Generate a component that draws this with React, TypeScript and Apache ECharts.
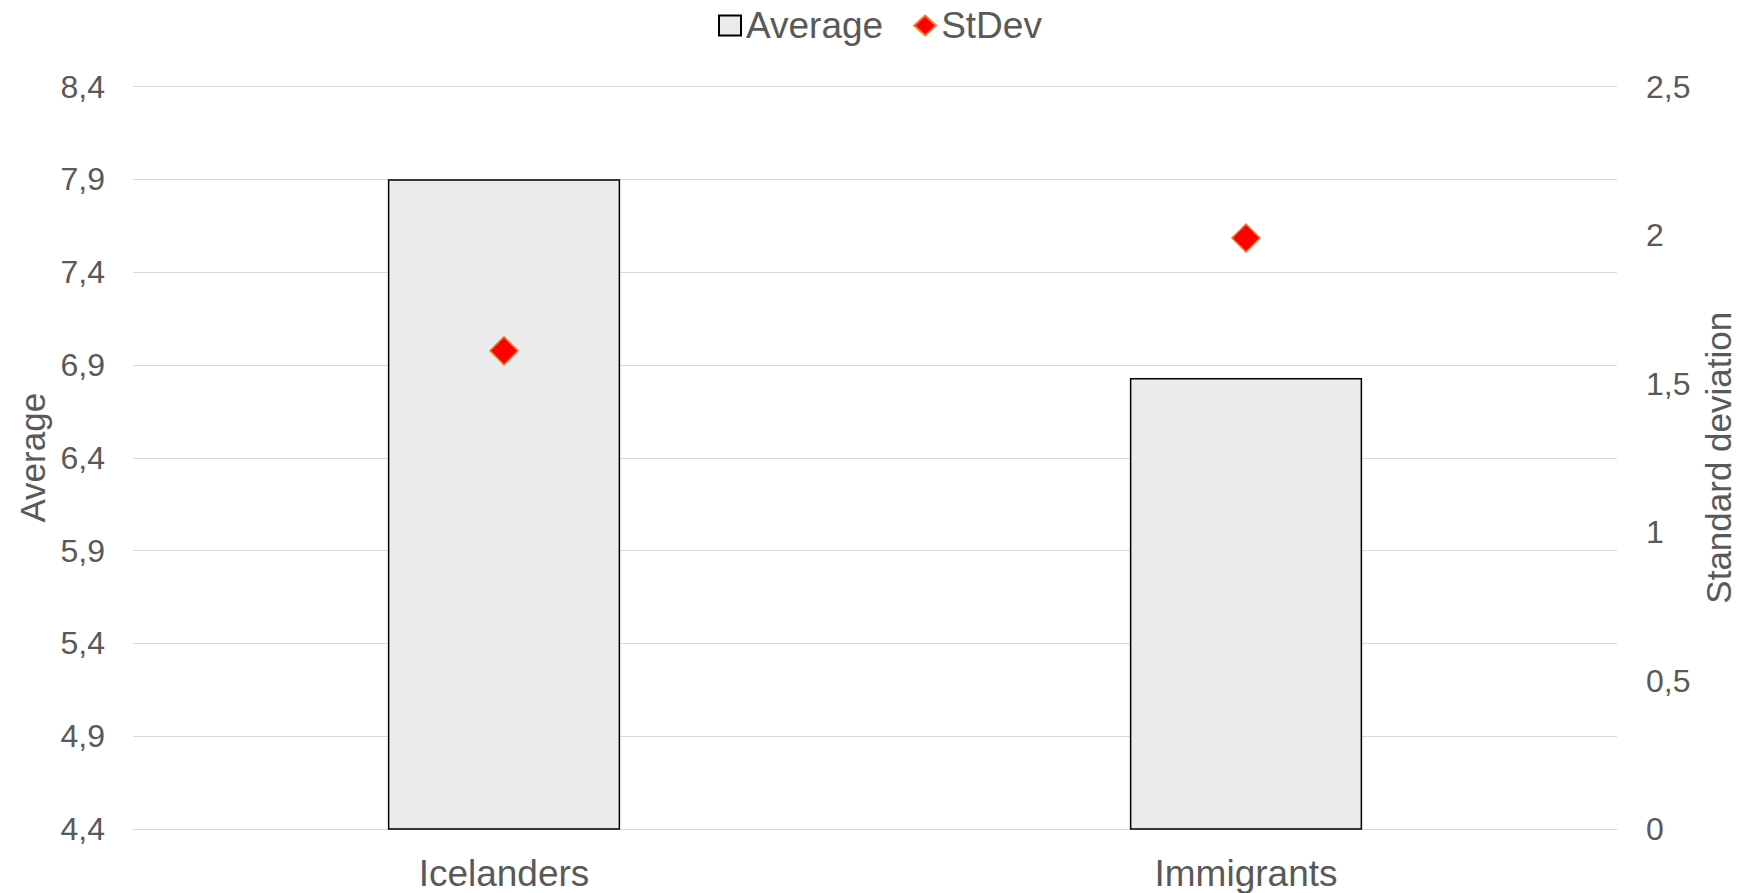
import React, { useEffect, useRef } from "react";
import * as echarts from "echarts";

const categories = ["Icelanders", "Immigrants"];
const averageValues = [7.9, 6.83];
const stdevValues = [1.61, 1.99];
const leftAxisMin = 4.4;
const leftAxisMax = 8.4;
const leftAxisStep = 0.5;
const rightAxisMin = 0;
const rightAxisMax = 2.5;
const rightAxisStep = 0.5;

const TEXT = "#595959";
const FONT = "Liberation Sans, Arial, sans-serif";
const fmt = (v: number) => {
  const r = Math.round(v * 10) / 10;
  return String(r).replace(".", ",");
};

export default function App() {
  const ref = useRef<HTMLDivElement>(null);
  useEffect(() => {
    if (!ref.current) return;
    const chart = echarts.init(ref.current, undefined, { renderer: "svg" });
    chart.setOption({
      animation: false,
      backgroundColor: "#ffffff",
      textStyle: { fontFamily: FONT },
      legend: {
        top: 2,
        left: 713,
        itemWidth: 22,
        itemHeight: 20,
        itemGap: 30,
        textStyle: { color: TEXT, fontSize: 37, fontFamily: FONT },
        data: [
          { name: "Average", icon: "rect" },
          { name: "StDev", icon: "diamond" },
        ],
      },
      grid: {
        left: 133,
        right: 123,
        top: 86.5,
        bottom: 64,
        containLabel: false,
        outerBoundsMode: "none",
      },
      xAxis: {
        type: "category",
        data: categories,
        axisLine: { show: true, lineStyle: { color: "#D9D9D9", width: 1 } },
        axisTick: { show: false },
        axisLabel: { color: TEXT, fontSize: 37, lineHeight: 36, margin: 26, fontFamily: FONT },
      },
      yAxis: [
        {
          type: "value",
          min: leftAxisMin,
          max: leftAxisMax,
          interval: leftAxisStep,
          name: "Average",
          nameLocation: "middle",
          nameGap: 82,
          nameTextStyle: { color: TEXT, fontSize: 35, fontFamily: FONT },
          axisLine: { show: false },
          axisTick: { show: false },
          axisLabel: { color: TEXT, fontSize: 32, margin: 28, formatter: fmt, fontFamily: FONT },
          splitLine: { show: true, lineStyle: { color: "#D9D9D9", width: 1 } },
        },
        {
          type: "value",
          min: rightAxisMin,
          max: rightAxisMax,
          interval: rightAxisStep,
          name: "Standard deviation",
          nameLocation: "middle",
          nameGap: 84,
          nameTextStyle: { color: TEXT, fontSize: 35, fontFamily: FONT },
          axisLine: { show: false },
          axisTick: { show: false },
          axisLabel: { color: TEXT, fontSize: 32, margin: 29, formatter: fmt, fontFamily: FONT },
          splitLine: { show: false },
        },
      ],
      series: [
        {
          name: "Average",
          type: "bar",
          yAxisIndex: 0,
          data: averageValues,
          barWidth: "31.3%",
          itemStyle: { color: "#EBEBEB", borderColor: "#000000", borderWidth: 1.5 },
        },
        {
          name: "StDev",
          type: "scatter",
          yAxisIndex: 1,
          data: stdevValues,
          symbol: "diamond",
          symbolSize: 28,
          itemStyle: { color: "#FF0000", borderColor: "#ED7D31", borderWidth: 1.5, opacity: 1 },
          z: 5,
        },
      ],
    });
    return () => chart.dispose();
  }, []);
  return (
    <div
      ref={ref}
      style={{ position: "fixed", left: 0, top: 0, width: 1740, height: 893, background: "#fff" }}
    />
  );
}
